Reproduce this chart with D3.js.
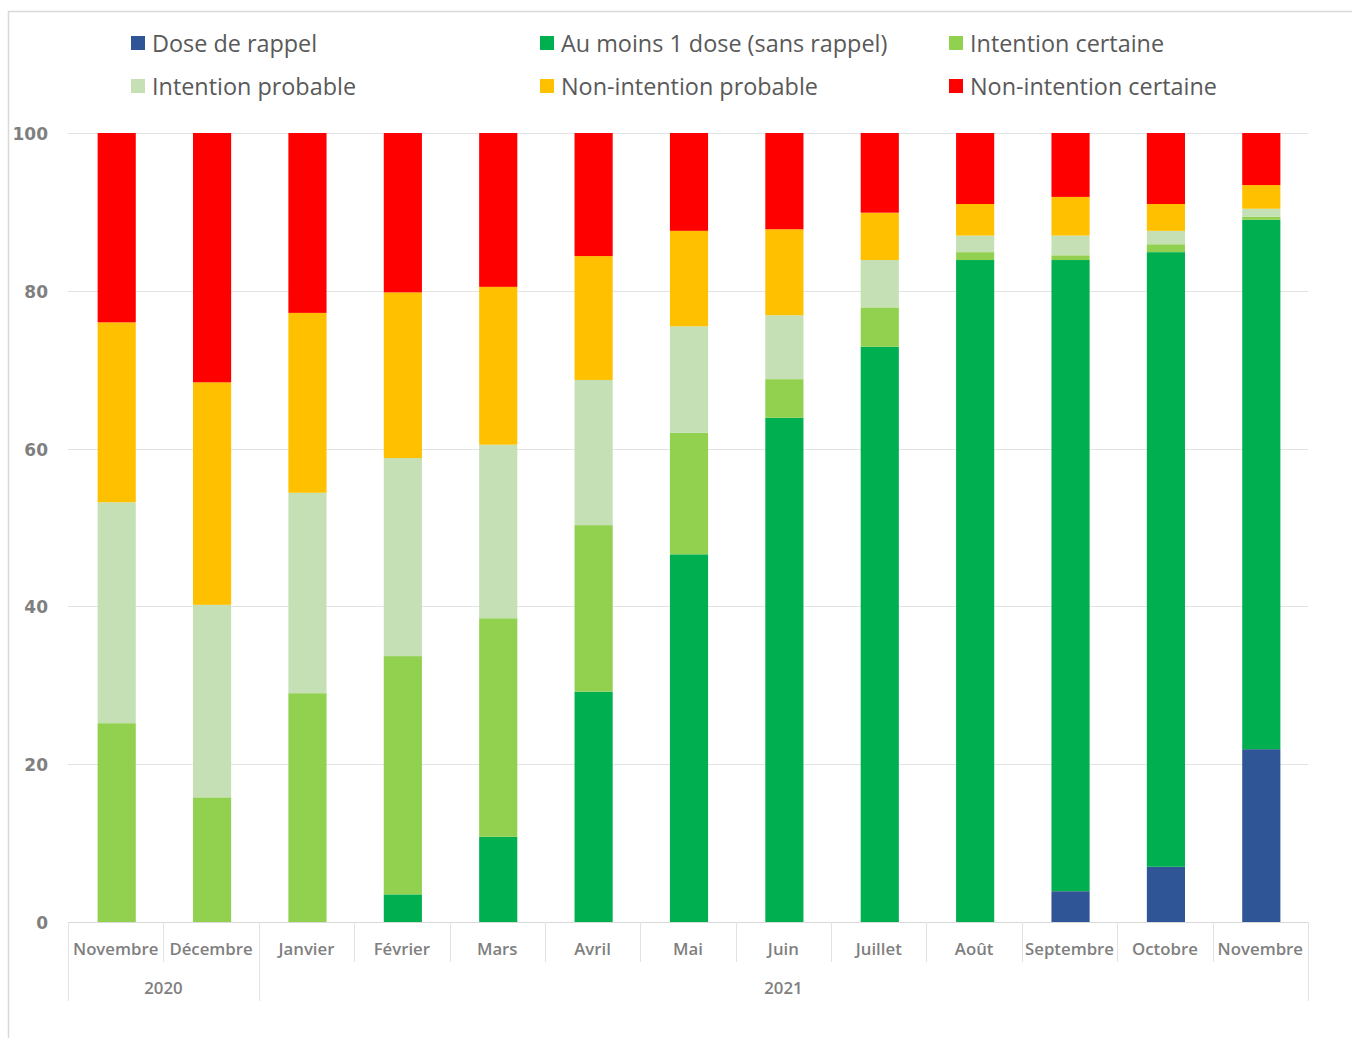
<!DOCTYPE html>
<html>
<head>
<meta charset="utf-8">
<script src="https://cdn.jsdelivr.net/npm/d3@7"></script>
<style>
  body { margin: 0; background: #fff; }
  svg { display: block; }
</style>
</head>
<body>
<svg id="graph"></svg>
<script>
// months + year groups
var months = ["Novembre","Décembre","Janvier","Février","Mars","Avril","Mai","Juin","Juillet","Août","Septembre","Octobre","Novembre"]
var years = [{label:"2020", from:0, to:2}, {label:"2021", from:2, to:13}]

var seriesNames = ["Dose de rappel","Au moins 1 dose (sans rappel)","Intention certaine","Intention probable","Non-intention probable","Non-intention certaine"]
var seriesColors = ["#2f5597","#00b050","#92d050","#c5e0b4","#ffc000","#ff0000"]

// values (%)
var rappel      = [0, 0, 0, 0, 0, 0, 0, 0, 0, 0, 3.9, 7.0, 21.9]
var uneDose     = [0, 0, 0, 3.5, 10.8, 29.2, 46.6, 63.9, 72.9, 83.9, 80.0, 77.9, 67.1]
var intCertaine = [25.2, 15.8, 29.0, 30.2, 27.7, 21.1, 15.4, 4.9, 5.0, 1.0, 0.6, 1.0, 0.4]
var intProbable = [28.0, 24.4, 25.4, 25.1, 22.0, 18.4, 13.5, 8.1, 6.0, 2.1, 2.5, 1.7, 1.0]
var nonIntProb  = [22.8, 28.2, 22.8, 21.0, 20.0, 15.7, 12.1, 10.9, 6.0, 4.0, 4.9, 3.4, 3.0]
var nonIntCert  = [24.0, 31.6, 22.8, 20.2, 19.5, 15.6, 12.4, 12.2, 10.1, 9.0, 8.1, 9.0, 6.6]
var yTicks = [0, 20, 40, 60, 80, 100]

var allSeries = [rappel, uneDose, intCertaine, intProbable, nonIntProb, nonIntCert]

var W = 1352, H = 1038
var svg = d3.select("#graph").attr("width", W).attr("height", H)

// chart frame
svg.append("rect")
    .attr("x", 8.5).attr("y", 11.5)
    .attr("width", 1360).attr("height", 1060)
    .attr("fill", "none").attr("stroke", "#d9d9d9").attr("stroke-width", 1.5)

var plotLeft = 68, plotRight = 1308, plotTop = 133, plotBottom = 922

var x = d3.scaleBand().domain(d3.range(months.length)).range([plotLeft, plotRight]).paddingInner(0.6).paddingOuter(0.3)
var xBand = d3.scaleBand().domain(d3.range(months.length)).range([plotLeft, plotRight])
var y = d3.scaleLinear().domain([0, 100]).range([plotBottom, plotTop])

// grid
svg.append("g").selectAll("line").data(yTicks.filter(d => d > 0)).enter().append("line")
    .attr("x1", plotLeft).attr("x2", plotRight)
    .attr("y1", d => Math.round(y(d)) + 0.5).attr("y2", d => Math.round(y(d)) + 0.5)
    .attr("stroke", "#e3e3e3").attr("stroke-width", 1)

// y labels
svg.append("g").selectAll("text").data(yTicks).enter().append("text")
    .attr("x", 48).attr("y", d => y(d) + 1)
    .attr("dy", "0.35em")
    .attr("text-anchor", "end")
    .attr("font-family", "DejaVu Sans")
    .attr("font-weight", "bold")
    .attr("font-size", "17px")
    .attr("fill", "#7f7f7f")
    .text(d => d)

// stacked bars
var table = months.map(function(m, i){
    var row = {i: i}
    seriesNames.forEach(function(s, k){ row[s] = allSeries[k][i] })
    return row
})
var stack = d3.stack().keys(seriesNames)(table)

svg.append("g").selectAll("g").data(stack).enter().append("g")
    .attr("fill", (d, k) => seriesColors[k])
    .selectAll("rect").data(d => d).enter().append("rect")
    .attr("x", d => x(d.data.i) + 1)
    .attr("width", x.bandwidth())
    .attr("y", d => y(d[1]))
    .attr("height", d => y(d[0]) - y(d[1]))

// x axis line and separators
svg.append("line")
    .attr("x1", plotLeft).attr("x2", plotRight)
    .attr("y1", plotBottom + 0.5).attr("y2", plotBottom + 0.5)
    .attr("stroke", "#d9d9d9")

var seps = d3.range(months.length + 1)
svg.append("g").selectAll("line").data(seps).enter().append("line")
    .attr("x1", d => Math.round(d === months.length ? plotRight : xBand(d)) + 0.5)
    .attr("x2", d => Math.round(d === months.length ? plotRight : xBand(d)) + 0.5)
    .attr("y1", plotBottom)
    .attr("y2", d => (years.some(g => g.from === d || g.to === d)) ? 1001 : 962)
    .attr("stroke", "#e3e3e3")

svg.append("g").selectAll("text").data(months).enter().append("text")
    .attr("x", (d, i) => xBand(i) + xBand.bandwidth() / 2)
    .attr("y", 955)
    .attr("text-anchor", "middle")
    .attr("font-family", "Open Sans")
    .attr("font-weight", "600")
    .attr("font-size", "16.8px")
    .attr("fill", "#7f7f7f")
    .text(d => d)

svg.append("g").selectAll("text").data(years).enter().append("text")
    .attr("x", d => (xBand(d.from) + (d.to === months.length ? plotRight : xBand(d.to))) / 2)
    .attr("y", 994)
    .attr("text-anchor", "middle")
    .attr("font-family", "Open Sans")
    .attr("font-weight", "600")
    .attr("font-size", "16.8px")
    .attr("fill", "#7f7f7f")
    .text(d => d.label)

// legend
var legX = [131, 540, 949], legY = [43, 86]
var leg = svg.append("g").selectAll("g").data(seriesNames).enter().append("g")
    .attr("transform", (d, k) => "translate(" + legX[k % 3] + "," + legY[Math.floor(k / 3)] + ")")
leg.append("rect")
    .attr("x", 0).attr("y", -7).attr("width", 14).attr("height", 14)
    .attr("fill", (d, k) => seriesColors[k])
leg.append("text")
    .attr("x", 21).attr("y", 1).attr("dy", "0.36em")
    .attr("font-family", "Open Sans")
    .attr("font-size", "23.4px")
    .attr("fill", "#595959")
    .text(d => d)
</script>
</body>
</html>
